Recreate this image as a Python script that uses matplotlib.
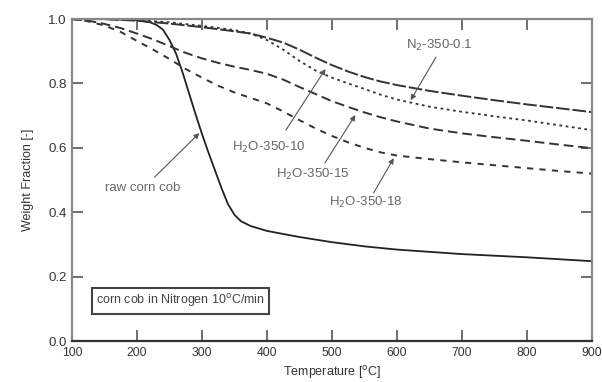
import matplotlib
matplotlib.use('Agg')
import matplotlib.pyplot as plt

plt.rcParams['font.family'] = ['Liberation Sans', 'DejaVu Sans']

# raw corn cob (solid)
t_raw = [100, 150, 200, 220, 230, 240, 250, 260, 270, 280, 290, 300, 310, 320, 330, 340, 350, 360,
         375, 400, 450, 500, 550, 600, 700, 800, 900]
w_raw = [1.0, 1.0, 0.997, 0.99, 0.982, 0.967, 0.935, 0.893, 0.835, 0.77, 0.705, 0.643, 0.585, 0.53,
         0.475, 0.425, 0.392, 0.372, 0.357, 0.342, 0.323, 0.307, 0.294, 0.284, 0.27, 0.26, 0.248]

# H2O-350-10 (long dash)
t_h2o_10 = [100, 150, 200, 250, 300, 350, 375, 400, 425, 450, 475, 500, 525, 550, 575, 600, 650, 700,
            750, 800, 850, 900]
w_h2o_10 = [1.0, 1.0, 0.995, 0.986, 0.975, 0.962, 0.955, 0.942, 0.927, 0.905, 0.88, 0.857, 0.837, 0.82,
            0.806, 0.795, 0.777, 0.762, 0.748, 0.735, 0.723, 0.711]

# N2-350-0.1 (dotted)
t_n2 = [100, 150, 200, 250, 300, 350, 375, 400, 425, 450, 475, 500, 525, 550, 575, 600, 650, 700,
        750, 800, 850, 900]
w_n2 = [1.0, 1.0, 0.997, 0.99, 0.979, 0.966, 0.955, 0.935, 0.905, 0.87, 0.84, 0.818, 0.8, 0.783,
        0.765, 0.75, 0.728, 0.712, 0.698, 0.685, 0.67, 0.655]

# H2O-350-15 (medium dash)
t_h2o_15 = [100, 125, 150, 175, 200, 225, 250, 275, 300, 325, 350, 375, 400, 425, 450, 475, 500, 525,
            550, 575, 600, 650, 700, 750, 800, 850, 900]
w_h2o_15 = [1.0, 0.995, 0.985, 0.972, 0.955, 0.937, 0.916, 0.895, 0.878, 0.864, 0.852, 0.842, 0.83,
            0.812, 0.789, 0.767, 0.745, 0.727, 0.71, 0.695, 0.682, 0.66, 0.645, 0.633, 0.622, 0.61, 0.599]

# H2O-350-18 (short dash)
t_h2o_18 = [100, 125, 150, 175, 200, 225, 250, 275, 300, 325, 350, 375, 400, 425, 450, 475, 500, 525,
            550, 575, 600, 650, 700, 750, 800, 850, 900]
w_h2o_18 = [1.0, 0.993, 0.98, 0.96, 0.932, 0.905, 0.876, 0.845, 0.818, 0.793, 0.772, 0.755, 0.738,
            0.713, 0.686, 0.66, 0.637, 0.617, 0.6, 0.586, 0.576, 0.565, 0.555, 0.546, 0.537, 0.528, 0.52]

x_ticks = [100, 200, 300, 400, 500, 600, 700, 800, 900]
y_ticks = [0.0, 0.2, 0.4, 0.6, 0.8, 1.0]

txt_col = '#666666'
fig = plt.figure(figsize=(6.02, 3.82), dpi=100)
ax = fig.add_axes([0.1196, 0.1073, 0.8638, 0.8427])

ax.plot(t_raw, w_raw, color='#222222', lw=1.3)
ax.plot(t_h2o_10, w_h2o_10, color='#333333', lw=1.4, dashes=(7, 1.5))
ax.plot(t_n2, w_n2, color='#333333', lw=1.3, dashes=(1.5, 2))
ax.plot(t_h2o_15, w_h2o_15, color='#333333', lw=1.4, dashes=(5, 2.5))
ax.plot(t_h2o_18, w_h2o_18, color='#333333', lw=1.4, dashes=(3.2, 3.2))

arrow = dict(arrowstyle='-|>', color='#555555', lw=0.8, mutation_scale=8, shrinkA=0, shrinkB=0)
ax.annotate('', xy=(296, 0.646), xytext=(227, 0.509), arrowprops=arrow)
ax.text(209, 0.475, 'raw corn cob', color=txt_col, fontsize=9.5, ha='center', va='center')
ax.annotate('', xy=(490, 0.845), xytext=(429, 0.655), arrowprops=arrow)
ax.text(402, 0.602, 'H$_2$O-350-10', color=txt_col, fontsize=9.5, ha='center', va='center')
ax.annotate('', xy=(536, 0.702), xytext=(489, 0.553), arrowprops=arrow)
ax.text(471, 0.516, 'H$_2$O-350-15', color=txt_col, fontsize=9.5, ha='center', va='center')
ax.annotate('', xy=(595, 0.568), xytext=(564, 0.46), arrowprops=arrow)
ax.text(552, 0.429, 'H$_2$O-350-18', color=txt_col, fontsize=9.5, ha='center', va='center')
ax.annotate('', xy=(621, 0.748), xytext=(660, 0.882), arrowprops=arrow)
ax.text(665, 0.919, 'N$_2$-350-0.1', color=txt_col, fontsize=9.5, ha='center', va='center')

ax.text(137, 0.125, 'corn cob in Nitrogen 10$^{\\mathrm{o}}$C/min', color='#444444', fontsize=9,
        ha='left', va='center',
        bbox=dict(boxstyle='square,pad=0.35', fc='white', ec='#444444', lw=1.5))

ax.set_xlim(100, 900)
ax.set_ylim(0, 1.0)
ax.set_xticks(x_ticks)
ax.set_yticks(y_ticks)
ax.set_yticklabels(['%.1f' % v for v in y_ticks])
ax.tick_params(direction='in', length=8, width=1.2, color='#555555', top=True, right=True,
               labelsize=9.5, labelcolor='#333333', pad=4)
ax.tick_params(axis='x', labelsize=8.7)
for s in ax.spines.values():
    s.set_color('#888888')
    s.set_linewidth(1.6)
ax.spines['bottom'].set_color('#333333')

ax.set_xlabel('Temperature [$^{\\mathrm{o}}$C]', fontsize=9, color='#333333', labelpad=4)
ax.set_ylabel('Weight Fraction [-]', fontsize=9, color='#333333', labelpad=10)

fig.savefig('out.png', dpi=100)
